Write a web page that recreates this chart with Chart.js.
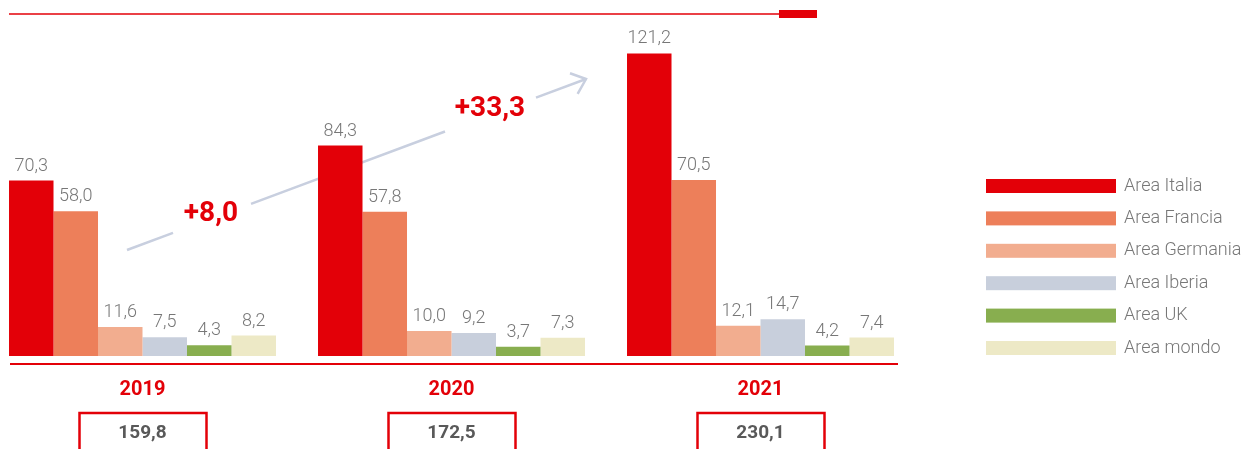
<!DOCTYPE html>
<html lang="it">
<head>
<meta charset="utf-8">
<title>Ricavi per area</title>
<script src="https://cdn.jsdelivr.net/npm/chart.js@4.4.2/dist/chart.umd.min.js"></script>
<style>
  html, body { margin: 0; padding: 0; background: #fff; overflow: hidden; }
  #wrap { position: absolute; left: -12px; top: 0; width: 1260px; height: 449px; }
</style>
</head>
<body>
<div id="wrap"><canvas id="chart" width="1260" height="449"></canvas></div>
<script>
const years = ['2019', '2020', '2021'];
const areaItalia = [70.3, 84.3, 121.2];
const areaFrancia = [58.0, 57.8, 70.5];
const areaGermania = [11.6, 10.0, 12.1];
const areaIberia = [7.5, 9.2, 14.7];
const areaUK = [4.3, 3.7, 4.2];
const areaMondo = [8.2, 7.3, 7.4];
const totals = [159.8, 172.5, 230.1];
const growth = [8.0, 33.3];

const RED = '#e30008';
const GREY = '#777777';
const SHIFT = 12; // the canvas starts 12px left of the page
const FONT = 'Roboto, "Noto Sans", sans-serif';

const fmt = (v) => v.toFixed(1).replace('.', ',');

// growth arrow, behind the bars, broken where the labels sit
const arrowPlugin = {
  id: 'arrow',
  beforeDatasetsDraw(chart) {
    const ctx = chart.ctx;
    const x0 = 127, y0 = 250, x1 = 586, y1 = 79;
    const yAt = (x) => y0 + (x - x0) * (y1 - y0) / (x1 - x0);
    const segments = [[x0, 173], [251, 445], [536, x1]];
    ctx.save();
    ctx.translate(SHIFT, 0);
    ctx.strokeStyle = '#c8cfdf';
    ctx.lineWidth = 2.5;
    ctx.lineCap = 'butt';
    segments.forEach(([a, b]) => {
      ctx.beginPath();
      ctx.moveTo(a, yAt(a));
      ctx.lineTo(b, yAt(b));
      ctx.stroke();
    });
    const ang = Math.atan2(y1 - y0, x1 - x0) + Math.PI;
    ctx.beginPath();
    ctx.moveTo(x1 + 17 * Math.cos(ang - 0.7), y1 + 17 * Math.sin(ang - 0.7));
    ctx.lineTo(x1, y1);
    ctx.lineTo(x1 + 17 * Math.cos(ang + 0.7), y1 + 17 * Math.sin(ang + 0.7));
    ctx.stroke();

    ctx.fillStyle = RED;
    ctx.font = 'bold 28px ' + FONT;
    ctx.textAlign = 'center';
    ctx.textBaseline = 'middle';
    ctx.fillText('+' + fmt(growth[0]), 211, 214);
    ctx.fillText('+' + fmt(growth[1]), 490, 109);
    ctx.restore();
  }
};

const decorPlugin = {
  id: 'decor',
  afterDatasetsDraw(chart) {
    const ctx = chart.ctx;

    // value labels above each bar
    ctx.save();
    ctx.fillStyle = GREY;
    ctx.font = '300 18px ' + FONT;
    ctx.textAlign = 'center';
    ctx.textBaseline = 'alphabetic';
    chart.data.datasets.forEach((ds, i) => {
      chart.getDatasetMeta(i).data.forEach((bar, j) => {
        ctx.fillText(fmt(ds.data[j]), bar.x, bar.y - 10);
      });
    });
    ctx.restore();

    ctx.save();
    ctx.translate(SHIFT, 0);
    // top rule
    ctx.strokeStyle = RED;
    ctx.lineWidth = 1.5;
    ctx.beginPath();
    ctx.moveTo(9, 14);
    ctx.lineTo(779, 14);
    ctx.stroke();
    ctx.fillStyle = RED;
    ctx.fillRect(779, 10, 38, 8);
    // base rule
    ctx.lineWidth = 2;
    ctx.beginPath();
    ctx.moveTo(10, 364);
    ctx.lineTo(898, 364);
    ctx.stroke();
    ctx.restore();

    // totals boxes, under each year
    const x = chart.scales.x;
    ctx.save();
    totals.forEach((t, i) => {
      const cx = x.getPixelForValue(i);
      ctx.strokeStyle = RED;
      ctx.lineWidth = 2.5;
      ctx.beginPath();
      ctx.moveTo(cx - 63, 460);
      ctx.lineTo(cx - 63, 413);
      ctx.lineTo(cx + 64, 413);
      ctx.lineTo(cx + 64, 460);
      ctx.stroke();
      ctx.fillStyle = '#595959';
      ctx.font = 'bold 19px ' + FONT;
      ctx.textAlign = 'center';
      ctx.textBaseline = 'middle';
      ctx.fillText(fmt(t), cx, 433);
    });
    ctx.restore();

    // legend
    ctx.save();
    ctx.translate(SHIFT, 0);
    ctx.font = '300 18px ' + FONT;
    ctx.textAlign = 'left';
    ctx.textBaseline = 'middle';
    chart.data.datasets.forEach((ds, i) => {
      const top = 179 + i * 32.4;
      ctx.fillStyle = ds.backgroundColor;
      ctx.fillRect(986, top, 130, 14);
      ctx.fillStyle = GREY;
      ctx.fillText(ds.label, 1124, top + 7);
    });
    ctx.restore();
  }
};

new Chart(document.getElementById('chart'), {
  type: 'bar',
  data: {
    labels: years,
    datasets: [
      { label: 'Area Italia', data: areaItalia, backgroundColor: '#e30008' },
      { label: 'Area Francia', data: areaFrancia, backgroundColor: '#ed7f5a' },
      { label: 'Area Germania', data: areaGermania, backgroundColor: '#f2ad8f' },
      { label: 'Area Iberia', data: areaIberia, backgroundColor: '#c8cfdc' },
      { label: 'Area UK', data: areaUK, backgroundColor: '#88ae4f' },
      { label: 'Area mondo', data: areaMondo, backgroundColor: '#ede9c6' }
    ]
  },
  options: {
    responsive: false,
    animation: false,
    events: [],
    layout: {
      padding: { top: 14, right: 333, bottom: 25, left: 0 }
    },
    datasets: {
      bar: {
        barPercentage: 1,
        categoryPercentage: 0.864,
        borderWidth: 0
      }
    },
    scales: {
      x: {
        grid: { display: false, drawTicks: false },
        border: { display: false },
        ticks: {
          color: RED,
          padding: 22,
          font: { family: FONT, size: 20, weight: 'bold' }
        }
      },
      y: {
        display: false,
        min: 0,
        max: 137
      }
    },
    plugins: {
      legend: { display: false },
      tooltip: { enabled: false }
    }
  },
  plugins: [arrowPlugin, decorPlugin]
});
</script>
</body>
</html>
